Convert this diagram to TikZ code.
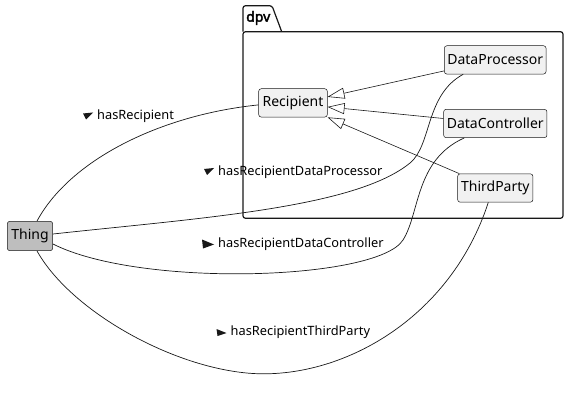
\documentclass[tikz,border=0pt]{standalone}
\usepackage{fontspec}
\setmainfont{Noto Sans}
\newfontfamily\pkgfont{Noto Sans}[FakeBold=2.5]
\usetikzlibrary{arrows.meta}
\definecolor{clsfill}{HTML}{F1F1F1}
\definecolor{thingfill}{HTML}{BEBEBE}
\definecolor{linecol}{HTML}{181818}

\begin{document}
\begin{tikzpicture}[x=1pt, y=-1pt,
  cls/.style={draw=linecol, fill=clsfill, rounded corners=2.5pt, line width=0.5pt, minimum height=28.3, inner sep=0pt, font=\fontsize{14}{16}\selectfont},
  lbl/.style={anchor=west, inner sep=0pt, font=\fontsize{12.8}{15}\selectfont},
  isa/.style={draw=linecol, line width=0.6pt, -{Triangle[open, length=17pt, width=11pt]}},
  rel/.style={draw=linecol, line width=0.7pt}]
\useasboundingbox (0,0) rectangle (569,403);

% Package dpv
\draw[linecol, line width=1.2pt, rounded corners=2.5pt] (243,31.7) -- (243,5.7) -- (272,5.7) -- (281.7,31.7);
\draw[linecol, line width=1.2pt, rounded corners=2.5pt] (243,31.7) rectangle (563,218.3);
\node (dpvtag) [anchor=west, inner sep=0pt, font=\pkgfont\fontsize{14}{16}\selectfont] at (246,18) {dpv};

% Classes
\node (recipient) [cls, minimum width=68.6] at (293,102.9) {Recipient};
\node (dataprocessor) [cls, minimum width=101.7] at (495.2,59.9) {DataProcessor};
\node (datacontroller) [cls, minimum width=103.3] at (495.3,123.5) {DataController};
\node (thirdparty) [cls, minimum width=75.3] at (495.3,188) {ThirdParty};
\node (thing) [cls, fill=thingfill, minimum width=45.4, minimum height=29.4] at (30,236) {Thing};

% Subclass links
\draw[isa] ([yshift=-11]dataprocessor.west) -- ([yshift=6]recipient.east);
\draw[isa] ([yshift=5]datacontroller.west) -- ([yshift=-4]recipient.east);
\draw[isa] ([xshift=-36]thirdparty.north) -- (recipient.south east);

% Properties
\draw[rel] ([xshift=7]thing.north) .. controls (70,160) and (160,115) .. ([yshift=-2]recipient.west);
\draw[rel] ([yshift=2]thing.east) .. controls (200,218) and (355,208) .. (410,163) .. controls (432,145) and (425,95) .. ([xshift=-32]dataprocessor.south);
\draw[rel] ([yshift=-8]thing.east) .. controls (140,288) and (377.5,280.5) .. (403,240) .. controls (420,213) and (415,160) .. ([xshift=-31]datacontroller.south);
\draw[rel] ([xshift=7]thing.south) .. controls (70,310) and (170,367) .. (250,373.3) .. controls (340,380) and (450,320) .. ([xshift=-7]thirdparty.south);

% Property labels
\node (lblrec) [lbl] at (97,116.5) {hasRecipient};
\node (lbldp) [lbl] at (218,172) {hasRecipientDataProcessor};
\node (lbldc) [lbl] at (218,244) {hasRecipientDataController};
\node (lbltp) [lbl] at (230.5,332.5) {hasRecipientThirdParty};
\fill[linecol] ([shift={(-14,-3)}]lblrec.west) -- ++(10,-1) -- ++(-7,7) -- cycle;
\fill[linecol] ([shift={(-14,-3)}]lbldp.west) -- ++(10,-1) -- ++(-7,7) -- cycle;
\fill[linecol] ([shift={(-16,-4.5)}]lbldc.west) -- ++(12,5) -- ++(-11,4) -- cycle;
\fill[linecol] ([shift={(-14,-3.5)}]lbltp.west) -- ++(10,4) -- ++(-9,3) -- cycle;
\end{tikzpicture}
\end{document}
